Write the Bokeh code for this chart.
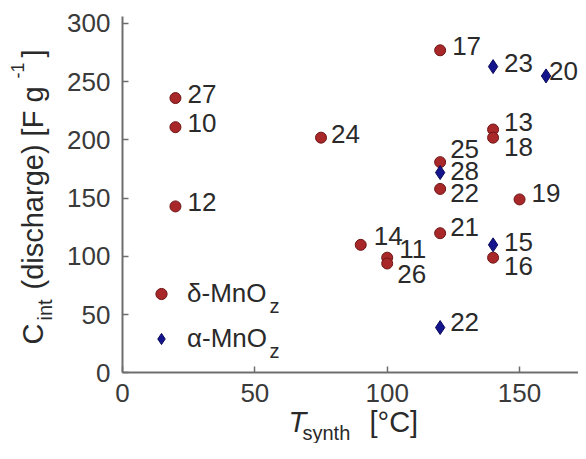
import math
from bokeh.plotting import figure
from bokeh.models import Range1d, FixedTicker, Label, Legend, LegendItem, ColumnDataSource
from bokeh.core.properties import value
from bokeh.embed import file_html
from bokeh.resources import INLINE

# ---- data ----
delta_T = [20, 20, 20, 75, 120, 140, 140, 120, 120, 150, 120, 90, 100, 100, 140]
delta_C = [236, 211, 143, 202, 277, 209, 202, 181, 158, 149, 120, 110, 99, 94, 99]
delta_ref = ["27", "10", "12", "24", "17", "13", "18", "25", "22", "19", "21", "14", "11", "26", "16"]

alpha_T = [140, 160, 120, 140, 120]
alpha_C = [263, 255, 172, 110, 39]
alpha_ref = ["23", "20", "28", "15", "22"]

x_ticks = [0, 50, 100, 150]
y_ticks = [0, 50, 100, 150, 200, 250, 300]

# label offsets (screen px, from marker centre to label left / middle)
delta_dx = [12, 12, 12, 10, 12, 11, 11, 10, 10, 12, 10, 13, 12, 10, 11]
delta_dy = [-4, -4, -4, -4, -4, -8, 9, -13, 4, -6, -6, -9, -9, 11, 8]
alpha_dx = [11, 3, 10, 11, 10]
alpha_dy = [-4, -5, -2, -3, -6]

FONT = "Liberation Sans"
RED = "#a8282a"
RED_EDGE = "#6e1414"
BLUE = "#14148c"
BLUE_EDGE = "#0a0a5a"
AXIS = "#6e6e6e"
TXT = "#2a2a2a"

X_END = 172.27
Y_END = 306.0

p = figure(frame_width=578, frame_height=443, min_border=0,
           x_range=Range1d(-46.09, X_END), y_range=Range1d(-60.52, 319.74),
           output_backend="svg", toolbar_location=None)
p.outline_line_color = None
p.xgrid.visible = False
p.ygrid.visible = False
p.background_fill_color = "white"
p.border_fill_color = "white"

for ax, ticks, bnd in ((p.xaxis, x_ticks, (0, X_END)), (p.yaxis, y_ticks, (0, Y_END))):
    ax.fixed_location = 0
    ax.bounds = bnd
    ax.ticker = FixedTicker(ticks=ticks)
    ax.axis_line_color = AXIS
    ax.axis_line_width = 2
    ax.major_tick_line_color = AXIS
    ax.major_tick_line_width = 1.5
    ax.major_tick_in = 6
    ax.major_tick_out = 0
    ax.minor_tick_line_color = None
    ax.major_label_text_font = FONT
    ax.major_label_text_font_size = "26px"
    ax.major_label_text_color = "#3a3a3a"
p.xaxis.major_label_standoff = 11
p.yaxis.major_label_standoff = 12

dsrc = ColumnDataSource(dict(x=delta_T, y=delta_C, t=delta_ref, dx=delta_dx, dy=delta_dy))
asrc = ColumnDataSource(dict(x=alpha_T, y=alpha_C, t=alpha_ref, dx=alpha_dx, dy=alpha_dy))

r_d = p.scatter("x", "y", source=dsrc, marker="circle", size=11, fill_color=RED,
                line_color=RED_EDGE, line_width=1)
r_a = p.scatter("x", "y", source=asrc, marker="diamond", size=14, fill_color=BLUE,
                line_color=BLUE_EDGE, line_width=1)

for src in (dsrc, asrc):
    p.text("x", "y", text="t", source=src, x_offset="dx", y_offset="dy",
           text_font=value(FONT), text_font_size="26px", text_color=TXT,
           text_align="left", text_baseline="middle")

legend = Legend(items=[LegendItem(label="δ-MnO", renderers=[r_d]),
                       LegendItem(label="α-MnO", renderers=[r_a])],
                location=(147, 82.5), orientation="vertical",
                glyph_width=28, glyph_height=45, label_height=45, spacing=0,
                padding=0, margin=0, label_standoff=12,
                label_text_font=FONT, label_text_font_size="26px", label_text_color=TXT,
                border_line_color=None, background_fill_alpha=0)
p.add_layout(legend)

def lab(text, x, y, size, angle=0, style="normal"):
    p.add_layout(Label(x=x, y=y, x_units="screen", y_units="screen", text=text,
                       text_font=FONT, text_font_size=size, text_color=TXT,
                       text_font_style=style, angle=angle,
                       text_align="left", text_baseline="middle"))

# legend subscripts
lab("z", 269, 138, "20px")
lab("z", 269, 93, "20px")

# x axis title: T_synth [°C]
lab("T", 288, 22, "29px", style="italic")
lab("synth", 302, 11, "20px")
lab("[°C]", 369, 22, "29px")

# y axis title: C_int (discharge) [F g^-1]  (rotated)
A = math.pi / 2
lab("C", 32, 99, "29px", angle=A)
lab("int", 44, 123, "20px", angle=A)
lab("(discharge) [F g", 32, 154, "29px", angle=A)
lab("-1", 17, 365, "18px", angle=A)
lab("]", 32, 386, "29px", angle=A)

open("out.html", "w").write(file_html(p, INLINE))
